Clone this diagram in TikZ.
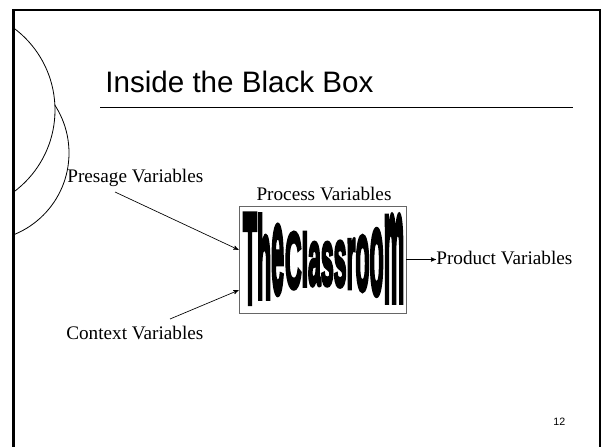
\documentclass[tikz,border=0pt]{standalone}
\usepackage{fontspec}
\setmainfont{Liberation Serif}
\setsansfont{Liberation Sans}
\newfontfamily\wordartfont{Liberation Sans}[UprightFeatures={FakeBold=5}, BoldFeatures={FakeBold=5}]
\usetikzlibrary{arrows, calc}

\begin{document}
\begin{tikzpicture}[x=0.75pt, y=-0.75pt, >=stealth', line width=0.5pt,
		var/.style={inner sep=0pt, font=\fontsize{14.4}{16}\selectfont},
		wordart/.style={inner sep=0pt, anchor=base, font=\wordartfont\bfseries\fontsize{16.5}{18}\selectfont},
		bubble/.style={draw=black, line width=0.6pt, fill=white}]

	\useasboundingbox (0,0) rectangle (602,446);

	% left bubbles
	\begin{scope}
		\clip (13,10) rectangle (602,446);
		\draw[bubble] (-19,153) circle (88);
		\draw[bubble] (-47,110) circle (102);
	\end{scope}

	% slide frame
	\draw[line width=1.5pt] (13,10) -- (600,10) -- (600,447);
	\draw[line width=2.25pt] (13,447) -- (13,9);

	\node[anchor=base west, inner sep=0pt, font=\sffamily\fontsize{22.2}{26}\selectfont] at (105,92) (title) {Inside the Black Box};
	\draw[line width=0.75pt] (100,107) -- (573,107);

	\node[draw=gray!80!black, line width=0.6pt, minimum width=125.25pt, minimum height=80.25pt, inner sep=0pt] at (322.5,259.5) (classroom) {};

	\foreach \ch/\cx/\ct/\cb/\gh [count=\i] in {T/250/211/303/0.716, h/264.1/216/298/0.716, e/277.6/228/293/0.519,
			C/293.3/231/288/0.716, l/304.9/233/286/0.716, a/314.5/244/285/0.519, s/327.3/244/285/0.519,
			s/340.1/243/286/0.519, r/351/241/288/0.519, o/362.5/238/290/0.519, o/376.6/232/294/0.519, m/394/219/301/0.519}
	{
		\pgfmathsetmacro{\ys}{(\cb-\ct)/(\gh*22)}
		\node[wordart] at (\cx,\cb) (ltr\i) {\scalebox{1.05}[\ys]{\ch}};
	}

	\node[var, anchor=base west] at (67,182)  (presage) {Presage Variables};
	\node[var, anchor=base]      at (324,200) (process) {Process Variables};
	\node[var, anchor=base west] at (66,339)  (context) {Context Variables};
	\node[var, anchor=base west] at (436,264) (product) {Product Variables};

	\node[anchor=base west, inner sep=0pt, font=\sffamily\fontsize{8}{9}\selectfont] at (553,425) (page) {12};

	\coordinate (presage tail) at (115,192);
	\coordinate (context tail) at (170,319);

	\draw[->] (presage tail) -- ($(classroom.north west)!0.41!(classroom.south west)$);
	\draw[->] (context tail) -- ($(classroom.north west)!0.785!(classroom.south west)$);
	\draw[->] (classroom.east) -- (classroom.east -| product.west);

\end{tikzpicture}
\end{document}
